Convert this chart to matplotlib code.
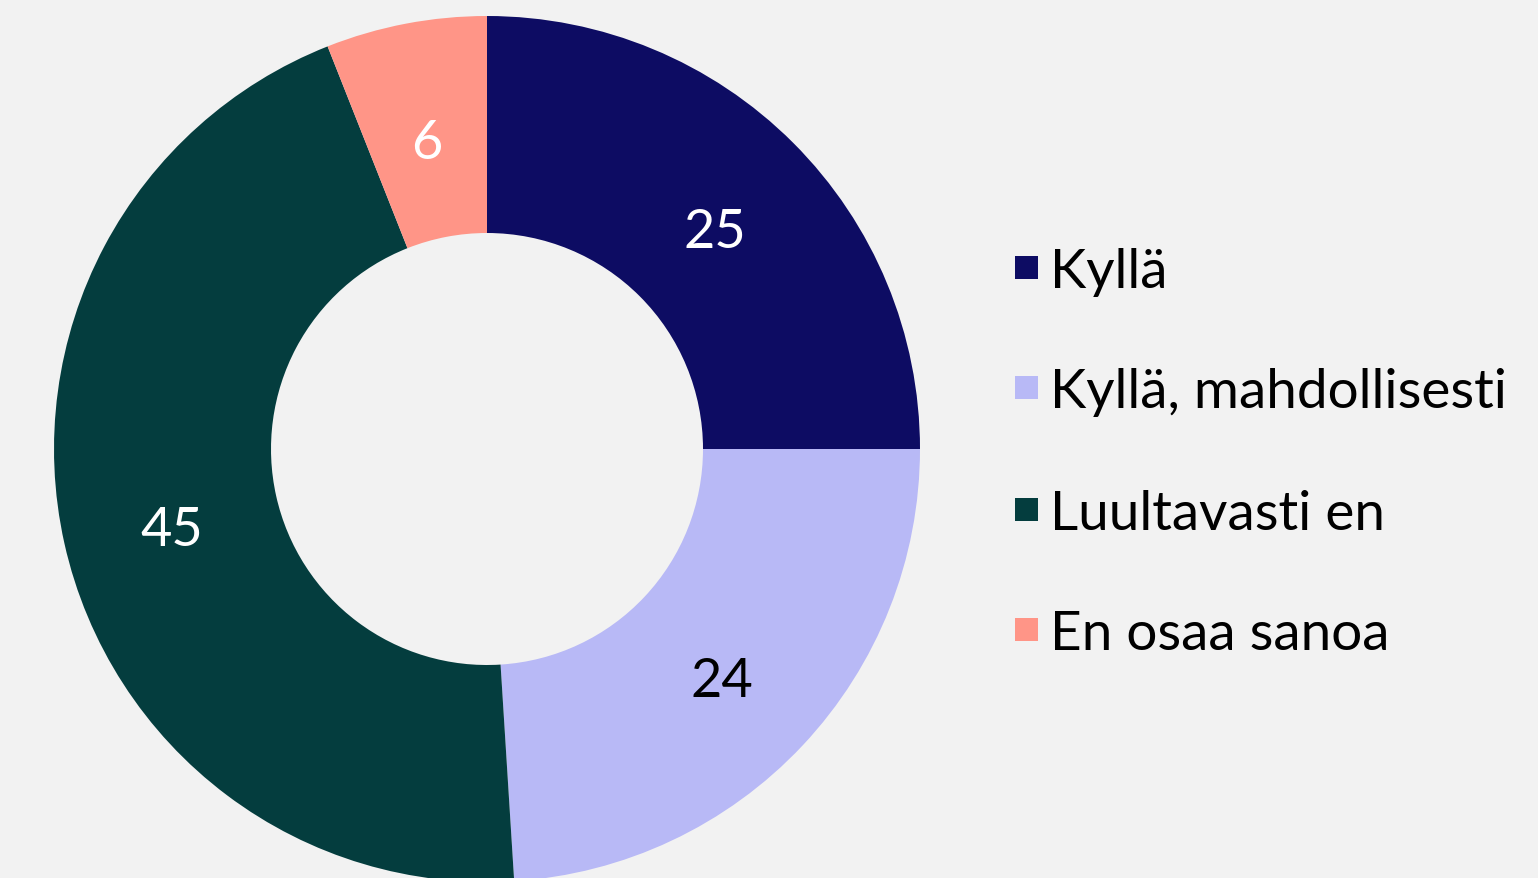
import matplotlib.pyplot as plt
from matplotlib.patches import Rectangle

labels = ['Kyllä', 'Kyllä, mahdollisesti', 'Luultavasti en', 'En osaa sanoa']
values = [25, 24, 45, 6]
colors = ['#0d0c63', '#b8b9f6', '#043d3e', '#ff9587']
text_colors = ['white', 'black', 'white', 'white']

BG = '#f2f2f2'
plt.rcParams['font.family'] = ['Lato', 'DejaVu Sans']

fig = plt.figure(figsize=(15.38, 8.79), dpi=100, facecolor=BG)
ax = fig.add_axes([0, 0, 1, 1])
ax.set_facecolor(BG)

# donut, pixel coordinates (y up)
wedges, texts = ax.pie(values, colors=colors, startangle=90, counterclock=False,
                       center=(487, 429), radius=433, labels=[str(v) for v in values],
                       labeldistance=0.745, wedgeprops=dict(width=217, linewidth=0),
                       textprops=dict(fontsize=39, ha='center', va='center_baseline'),
                       frame=True)
for t, c in zip(texts, text_colors):
    t.set_color(c)
    x, y = t.get_position()
    t.set_position((x, y - 6))
ax.set_xlim(0, 1538)
ax.set_ylim(0, 879)
ax.set_aspect('equal')
ax.axis('off')

# legend
row_y = [611, 491, 369, 249]
for lab, col, y in zip(labels, colors, row_y):
    ax.add_patch(Rectangle((1015, y - 11.5), 23, 23, facecolor=col, edgecolor='none'))
    ax.text(1050, y, lab, fontsize=39.5, color='black', ha='left', va='center_baseline')

fig.savefig('out.png', dpi=100, facecolor=BG)
